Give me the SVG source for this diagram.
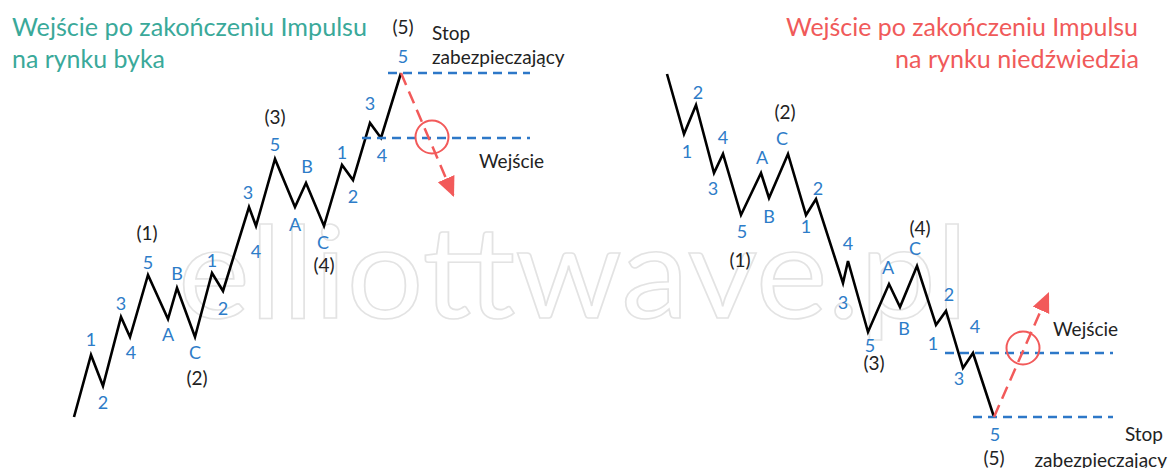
<svg xmlns="http://www.w3.org/2000/svg" width="1169" height="468" viewBox="0 0 1169 468">
  <defs>
    <style>
      .wm { font-family: Lato, "Liberation Sans", sans-serif; font-size: 128px; fill: #ffffff; stroke: #e3e3e3; stroke-width: 1.6; }
      .title { font-family: Lato, "Liberation Sans", sans-serif; font-size: 25px; }
      .bull { fill: #3aa99a; }
      .bear { fill: #f05a5a; }
      .wave { fill: none; stroke: #000; stroke-width: 2.6; stroke-linejoin: miter; }
      .lvl { stroke: #2d78c8; stroke-width: 2.5; stroke-dasharray: 9 6; fill: none; }
      .entry { stroke: #f25a5a; stroke-width: 2.5; stroke-dasharray: 13 7; fill: none; }
      .ring { stroke: #f25a5a; stroke-width: 2; fill: none; }
      .sub { font-family: Lato, "Liberation Sans", sans-serif; font-size: 18px; fill: #2d7cc8; text-anchor: middle; }
      .deg { font-family: Lato, "Liberation Sans", sans-serif; font-size: 19px; fill: #222; text-anchor: middle; }
      .note { font-family: Lato, "Liberation Sans", sans-serif; font-size: 19px; fill: #222; }
    </style>
    <marker id="arrow" markerUnits="userSpaceOnUse" markerWidth="22" markerHeight="20" refX="20" refY="9" orient="auto">
      <path d="M0,0 L20,9 L0,18 Z" fill="#f25a5a"/>
    </marker>
  </defs>

  <!-- background -->
  <rect width="1169" height="468" fill="#ffffff"/>

  <!-- watermark -->
  <text class="wm" x="178" y="318" textLength="790" lengthAdjust="spacingAndGlyphs">elliottwave.pl</text>

  <!-- titles -->
  <g id="title-bull">
    <text class="title bull" x="12" y="36" textLength="355" lengthAdjust="spacingAndGlyphs">Wejście po zakończeniu Impulsu</text>
    <text class="title bull" x="12" y="68" textLength="153" lengthAdjust="spacingAndGlyphs">na rynku byka</text>
  </g>
  <g id="title-bear">
    <text class="title bear" x="786" y="36" textLength="352" lengthAdjust="spacingAndGlyphs">Wejście po zakończeniu Impulsu</text>
    <text class="title bear" x="895" y="68" textLength="244" lengthAdjust="spacingAndGlyphs">na rynku niedźwiedzia</text>
  </g>

  <!-- connectors: price paths, levels and entry arrows -->
  <g id="connectors">
    <polyline class="wave" points="74,417 91,355 103,386 121,317 130,337 148,275 168,319 177,288 195,337 212,273 223,291 249,207 256,226 275,159 295,207 306,183 324,226 342,165 353,180 370,123 381,138 401,73"/>
    <polyline class="wave" points="667,74 684,134 696,105 714,173 723,154 741,215 761,173 769,198 788,154 806,215 816,199 843,283 848,261 868,332 889,284 900,307 917,266 936,325 946,311 963,368 973,353 994,417"/>

    <line class="lvl" x1="388" y1="73" x2="530" y2="73"/>
    <line class="lvl" x1="362" y1="138" x2="530" y2="138"/>
    <line class="lvl" x1="945" y1="353" x2="1113" y2="353"/>
    <line class="lvl" x1="973" y1="417" x2="1113" y2="417"/>

    <line class="entry" x1="401" y1="73" x2="454" y2="197" marker-end="url(#arrow)"/>
    <line class="entry" x1="994" y1="417" x2="1049" y2="292" marker-end="url(#arrow)"/>
    <circle class="ring" cx="432" cy="137" r="16.5"/>
    <circle class="ring" cx="1023" cy="348" r="16.5"/>
  </g>

  <!-- bull market wave labels -->
  <g id="bull-labels">
    <text class="sub" x="91" y="346">1</text>
    <text class="sub" x="103" y="409">2</text>
    <text class="sub" x="121" y="310">3</text>
    <text class="sub" x="131" y="359">4</text>
    <text class="sub" x="148" y="269">5</text>
    <text class="sub" x="168" y="341">A</text>
    <text class="sub" x="177" y="280">B</text>
    <text class="sub" x="195" y="359">C</text>
    <text class="sub" x="212" y="267">1</text>
    <text class="sub" x="223" y="315">2</text>
    <text class="sub" x="248" y="199">3</text>
    <text class="sub" x="256" y="258">4</text>
    <text class="sub" x="275" y="151">5</text>
    <text class="sub" x="295" y="231">A</text>
    <text class="sub" x="307" y="173">B</text>
    <text class="sub" x="323" y="249">C</text>
    <text class="sub" x="342" y="159">1</text>
    <text class="sub" x="353" y="203">2</text>
    <text class="sub" x="370" y="110">3</text>
    <text class="sub" x="382" y="162">4</text>
    <text class="sub" x="403" y="63">5</text>
    <text class="deg" x="147" y="240">(1)</text>
    <text class="deg" x="197" y="385">(2)</text>
    <text class="deg" x="275" y="124">(3)</text>
    <text class="deg" x="324" y="272">(4)</text>
    <text class="deg" x="403" y="34">(5)</text>
    <text class="note" x="432" y="40">Stop</text>
    <text class="note" x="432" y="64">zabezpieczający</text>
    <text class="note" x="479" y="168">Wejście</text>
  </g>

  <!-- bear market wave labels -->
  <g id="bear-labels">
    <text class="sub" x="687" y="158">1</text>
    <text class="sub" x="698" y="99">2</text>
    <text class="sub" x="713" y="195">3</text>
    <text class="sub" x="723" y="144">4</text>
    <text class="sub" x="742" y="238">5</text>
    <text class="sub" x="762" y="164">A</text>
    <text class="sub" x="769" y="223">B</text>
    <text class="sub" x="782" y="145">C</text>
    <text class="sub" x="806" y="233">1</text>
    <text class="sub" x="818" y="195">2</text>
    <text class="sub" x="843" y="309">3</text>
    <text class="sub" x="848" y="250">4</text>
    <text class="sub" x="870" y="352">5</text>
    <text class="sub" x="888" y="274">A</text>
    <text class="sub" x="904" y="335">B</text>
    <text class="sub" x="915" y="255">C</text>
    <text class="sub" x="933" y="350">1</text>
    <text class="sub" x="949" y="301">2</text>
    <text class="sub" x="959" y="385">3</text>
    <text class="sub" x="975" y="333">4</text>
    <text class="sub" x="995" y="441">5</text>
    <text class="deg" x="740" y="267">(1)</text>
    <text class="deg" x="785" y="119">(2)</text>
    <text class="deg" x="874" y="370">(3)</text>
    <text class="deg" x="920" y="235">(4)</text>
    <text class="deg" x="994" y="465">(5)</text>
    <text class="note" x="1053" y="336">Wejście</text>
    <text class="note" x="1163" y="441" text-anchor="end">Stop</text>
    <text class="note" x="1167" y="467" text-anchor="end">zabezpieczający</text>
  </g>
</svg>
